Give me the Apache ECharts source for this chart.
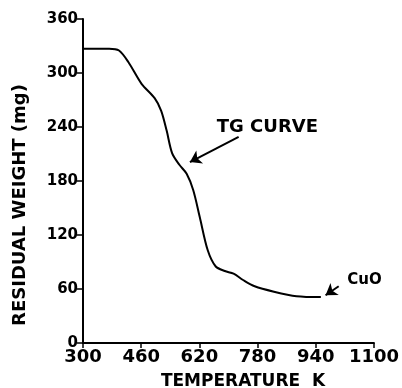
<!DOCTYPE html>
<html>
<head>
<meta charset="utf-8">
<script src="https://cdn.jsdelivr.net/npm/echarts@6/dist/echarts.min.js"></script>
<style>
  html, body { margin: 0; padding: 0; background: #fff; }
  #chart { width: 402px; height: 388px; }
</style>
</head>
<body>
<div id="chart"></div>
<script>
// temperature (K) and residual weight (mg)
const temps = [300, 372, 399, 425, 461, 497, 515, 530, 545, 565, 585, 603, 621, 643, 665, 690, 714, 740, 772, 825, 887, 954];
const weights = [327, 327, 325, 312, 288, 272, 258, 236, 211, 198, 188, 170, 140, 103, 85, 80, 77, 70, 63, 57, 52, 51];

const xTicks = [300, 460, 620, 780, 940, 1100];
const yTicks = [0, 60, 120, 180, 240, 300, 360];

// annotations (data coords)
const tgArrow = [[728, 229], [594, 201]];
const cuoArrow = [[1003, 63], [967, 53]];
const tgLabel = [807, 240];
const cuoLabel = [1074, 70];

const chart = echarts.init(document.getElementById('chart'));
const font = 'DejaVu Sans';

chart.setOption({
  animation: false,
  grid: { left: 83, right: 19, top: 19, bottom: 45 },
  xAxis: {
    type: 'value',
    min: xTicks[0],
    max: xTicks[xTicks.length - 1],
    interval: 160,
    splitLine: { show: false },
    axisLine: { lineStyle: { color: '#000', width: 2 } },
    axisTick: { length: 5, lineStyle: { color: '#000', width: 1.5 } },
    axisLabel: { color: '#000', fontFamily: font, fontSize: 18, fontWeight: 'bold', margin: 5,
      formatter: v => String(v) }
  },
  yAxis: {
    type: 'value',
    min: yTicks[0],
    max: yTicks[yTicks.length - 1],
    interval: 60,
    splitLine: { show: false },
    axisLine: { show: true, lineStyle: { color: '#000', width: 2 } },
    axisTick: { show: true, length: 6, lineStyle: { color: '#000', width: 1.5 } },
    axisLabel: { color: '#000', fontFamily: font, fontSize: 15, fontWeight: 'bold', margin: 5,
      formatter: v => String(v) }
  },
  graphic: [
    {
      type: 'text', x: 20, y: 205, rotation: Math.PI / 2,
      style: { text: 'RESIDUAL WEIGHT (mg)', fontFamily: font, fontSize: 18, fontWeight: 'bold',
        fill: '#000', align: 'center', verticalAlign: 'middle' }
    },
    {
      type: 'text', x: 243, y: 382,
      style: { text: 'TEMPERATURE  K', fontFamily: font, fontSize: 17, fontWeight: 'bold',
        fill: '#000', align: 'center', verticalAlign: 'middle' }
    }
  ],
  series: [{
    type: 'line',
    data: temps.map((t, i) => [t, weights[i]]),
    smooth: 0.3,
    symbol: 'none',
    lineStyle: { color: '#000', width: 2 },
    markLine: {
      silent: true,
      symbol: ['none', 'arrow'],
      symbolSize: 11,
      label: { show: false },
      itemStyle: { color: '#000' },
      lineStyle: { color: '#000', width: 2, type: 'solid' },
      data: [
        [{ coord: tgArrow[0] }, { coord: tgArrow[1] }],
        [{ coord: cuoArrow[0] }, { coord: cuoArrow[1] }]
      ]
    },
    markPoint: {
      silent: true,
      symbolSize: 0,
      label: { show: true, color: '#000', fontFamily: font, fontSize: 18, fontWeight: 'bold', position: 'inside' },
      data: [
        { coord: tgLabel, value: 'TG CURVE', label: { formatter: 'TG CURVE' } },
        { coord: cuoLabel, value: 'CuO', label: { formatter: 'CuO', fontSize: 15 } }
      ]
    }
  }]
});
</script>
</body>
</html>
